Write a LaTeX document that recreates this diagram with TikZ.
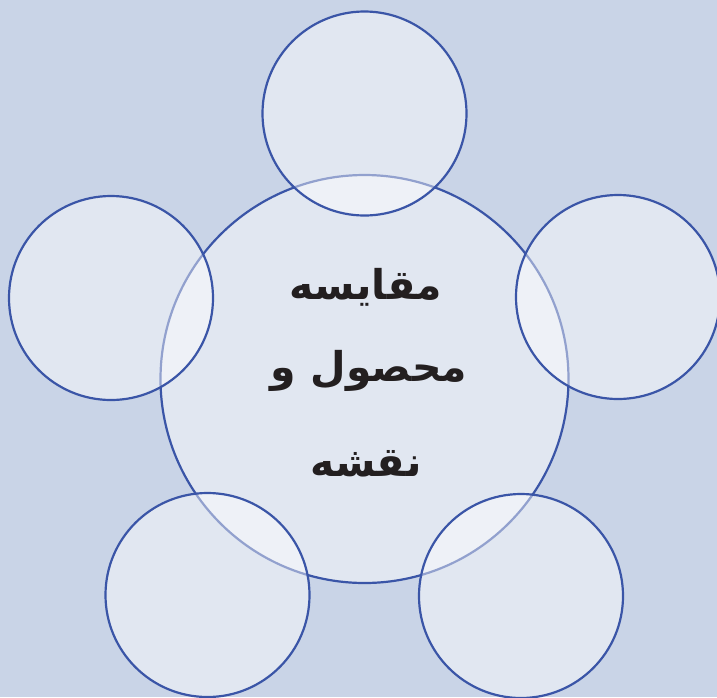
\documentclass[tikz,border=0pt]{standalone}
\usepackage{fontspec}
\newfontfamily\arabicfont[Script=Arabic]{DejaVu Sans}
\TeXXeTstate=1
\definecolor{bgc}{HTML}{C9D4E7}
\definecolor{edgec}{HTML}{3A55A7}
\definecolor{txtc}{HTML}{231F20}
\begin{document}
\begin{tikzpicture}[x=1pt,y=-1pt,
  circ/.style={circle,draw=edgec,line width=2.2pt,fill=white,fill opacity=0.45,draw opacity=1,inner sep=0pt},
  lbl/.style={text=txtc,font=\arabicfont\bfseries\fontsize{41}{45}\selectfont,anchor=center,inner sep=0pt}]
\fill[bgc] (0,0) rectangle (717,697);
\useasboundingbox (0,0) rectangle (717,697);
\node[circ,minimum size=408pt] (center) at (364.5,379) {};
\node[circ,minimum size=204pt] (top) at (364.5,113.5) {};
\node[circ,minimum size=204pt] (left) at (111,298) {};
\node[circ,minimum size=204pt] (right) at (618,297) {};
\node[circ,minimum size=204pt] (bl) at (207.5,595) {};
\node[circ,minimum size=204pt] (br) at (521,596) {};
\node[lbl] (l1) at (366,287) {\beginR مقایسه\endR};
\node[lbl] (l2) at (369,371) {\beginR محصول و\endR};
\node[lbl] (l3) at (366,464) {\beginR نقشه\endR};
\end{tikzpicture}
\end{document}
